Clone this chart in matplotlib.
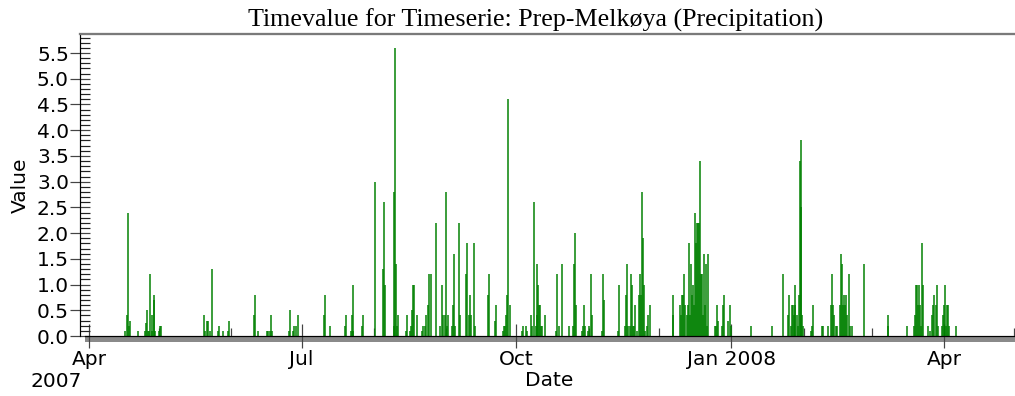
import matplotlib
matplotlib.use("Agg")
import matplotlib.pyplot as plt
import matplotlib.dates as mdates
import matplotlib.ticker as mticker
from matplotlib.patches import Rectangle
import pandas as pd

# ---------------- data ----------------
obs_time = [
    "2007-04-16 10", "2007-04-17 03", "2007-04-17 20", "2007-04-18 06", "2007-04-18 13",
    "2007-04-22 03", "2007-04-24 23", "2007-04-25 10", "2007-04-25 20", "2007-04-26 10",
    "2007-04-26 20", "2007-04-27 06", "2007-04-27 20", "2007-04-28 03", "2007-04-28 16",
    "2007-04-28 23", "2007-04-29 10", "2007-05-01 03", "2007-05-01 13", "2007-05-01 23",
    "2007-05-20 06", "2007-05-20 16", "2007-05-21 09", "2007-05-21 19", "2007-05-22 19",
    "2007-05-23 19", "2007-05-26 09", "2007-05-26 16", "2007-05-28 05", "2007-05-30 16",
    "2007-05-31 02", "2007-06-10 15", "2007-06-11 01", "2007-06-12 12", "2007-06-16 01",
    "2007-06-16 18", "2007-06-17 08", "2007-06-17 18", "2007-06-18 05", "2007-06-25 11",
    "2007-06-26 01", "2007-06-27 05", "2007-06-27 18", "2007-06-28 15", "2007-06-29 08",
    "2007-07-10 14", "2007-07-11 01", "2007-07-13 04", "2007-07-19 14", "2007-07-20 00",
    "2007-07-22 04", "2007-07-22 11", "2007-07-22 21", "2007-07-23 04", "2007-07-27 00",
    "2007-07-27 11", "2007-08-01 10", "2007-08-05 00", "2007-08-05 10", "2007-08-05 20",
    "2007-08-09 10", "2007-08-09 17", "2007-08-10 00", "2007-08-10 10", "2007-08-10 20",
    "2007-08-11 07", "2007-08-14 17", "2007-08-15 03", "2007-08-16 10", "2007-08-16 20",
    "2007-08-17 06", "2007-08-17 17", "2007-08-18 03", "2007-08-19 13", "2007-08-21 13",
    "2007-08-22 00", "2007-08-22 20", "2007-08-23 10", "2007-08-24 06", "2007-08-24 17",
    "2007-08-25 06", "2007-08-27 13", "2007-08-29 06", "2007-08-29 23", "2007-08-30 16",
    "2007-08-31 06", "2007-08-31 16", "2007-09-01 03", "2007-09-01 13", "2007-09-03 13",
    "2007-09-03 23", "2007-09-04 09", "2007-09-04 20", "2007-09-06 13", "2007-09-06 20",
    "2007-09-09 13", "2007-09-09 23", "2007-09-10 13", "2007-09-11 02", "2007-09-11 13",
    "2007-09-12 19", "2007-09-13 06", "2007-09-18 19", "2007-09-19 06", "2007-09-21 23",
    "2007-09-22 09", "2007-09-25 02", "2007-09-25 12", "2007-09-25 23", "2007-09-26 09",
    "2007-09-26 23", "2007-09-27 12", "2007-09-28 09", "2007-10-03 09", "2007-10-03 19",
    "2007-10-05 02", "2007-10-05 12", "2007-10-07 09", "2007-10-07 19", "2007-10-08 15",
    "2007-10-09 05", "2007-10-09 15", "2007-10-09 22", "2007-10-10 08", "2007-10-10 19",
    "2007-10-11 05", "2007-10-11 15", "2007-10-12 01", "2007-10-13 05", "2007-10-17 22",
    "2007-10-18 05", "2007-10-19 05", "2007-10-20 15", "2007-10-23 08", "2007-10-25 01",
    "2007-10-25 15", "2007-10-26 01", "2007-10-26 12", "2007-10-28 22", "2007-10-29 08",
    "2007-10-29 18", "2007-10-30 05", "2007-10-31 11", "2007-11-01 04", "2007-11-01 18",
    "2007-11-02 04", "2007-11-06 11", "2007-11-06 21", "2007-11-07 08", "2007-11-13 07",
    "2007-11-13 18", "2007-11-16 11", "2007-11-16 21", "2007-11-17 07", "2007-11-17 18",
    "2007-11-18 14", "2007-11-19 00", "2007-11-19 11", "2007-11-19 21", "2007-11-20 11",
    "2007-11-20 21", "2007-11-21 11", "2007-11-22 07", "2007-11-22 18", "2007-11-23 04",
    "2007-11-23 14", "2007-11-24 00", "2007-11-24 11", "2007-11-25 04", "2007-11-25 21",
    "2007-11-26 07", "2007-11-27 04", "2007-12-06 21", "2007-12-07 03", "2007-12-10 00",
    "2007-12-10 14", "2007-12-11 00", "2007-12-11 10", "2007-12-11 20", "2007-12-12 07",
    "2007-12-12 20", "2007-12-13 07", "2007-12-13 17", "2007-12-14 03", "2007-12-14 13",
    "2007-12-14 23", "2007-12-15 10", "2007-12-15 20", "2007-12-16 06", "2007-12-16 17",
    "2007-12-17 03", "2007-12-17 13", "2007-12-17 23", "2007-12-18 13", "2007-12-18 23",
    "2007-12-19 10", "2007-12-19 20", "2007-12-20 06", "2007-12-20 17", "2007-12-21 03",
    "2007-12-21 13", "2007-12-22 03", "2007-12-24 20", "2007-12-25 06", "2007-12-25 17",
    "2007-12-26 03", "2007-12-27 20", "2007-12-28 06", "2007-12-28 17", "2007-12-30 17",
    "2007-12-31 06", "2007-12-31 17", "2008-01-09 06", "2008-01-18 12", "2008-01-23 06",
    "2008-01-25 02", "2008-01-25 16", "2008-01-26 09", "2008-01-26 23", "2008-01-27 09",
    "2008-01-27 16", "2008-01-28 02", "2008-01-28 09", "2008-01-28 23", "2008-01-29 09",
    "2008-01-29 19", "2008-01-30 06", "2008-01-30 16", "2008-01-30 23", "2008-01-31 09",
    "2008-01-31 19", "2008-02-03 22", "2008-02-04 09", "2008-02-04 19", "2008-02-08 15",
    "2008-02-09 09", "2008-02-11 08", "2008-02-12 15", "2008-02-13 02", "2008-02-13 12",
    "2008-02-13 22", "2008-02-14 19", "2008-02-15 08", "2008-02-16 12", "2008-02-16 19",
    "2008-02-17 05", "2008-02-17 15", "2008-02-18 05", "2008-02-18 15", "2008-02-19 01",
    "2008-02-19 15", "2008-02-20 05", "2008-02-20 18", "2008-02-21 18", "2008-02-26 22",
    "2008-03-07 22", "2008-03-08 04", "2008-03-16 01", "2008-03-19 04", "2008-03-19 14",
    "2008-03-20 00", "2008-03-20 11", "2008-03-20 21", "2008-03-21 07", "2008-03-21 18",
    "2008-03-22 04", "2008-03-22 11", "2008-03-22 21", "2008-03-25 07", "2008-03-26 00",
    "2008-03-27 00", "2008-03-27 11", "2008-03-27 21", "2008-03-28 11", "2008-03-28 21",
    "2008-03-29 07", "2008-03-31 00", "2008-03-31 11", "2008-03-31 21", "2008-04-01 07",
    "2008-04-01 17", "2008-04-02 04", "2008-04-02 14", "2008-04-03 00", "2008-04-06 00",
]
precip = [
    0.1, 0.4, 2.4, 0.2, 0.3,
    0.1, 0.1, 0.25, 0.5, 0.1,
    0.1, 1.2, 0.1, 0.4, 0.8,
    0.7, 0.1, 0.1, 0.2, 0.2,
    0.4, 0.1, 0.3, 0.3, 0.1,
    1.3, 0.1, 0.2, 0.1, 0.1,
    0.3, 0.4, 0.8, 0.1, 0.1,
    0.1, 0.1, 0.4, 0.1, 0.1,
    0.5, 0.1, 0.2, 0.2, 0.4,
    0.4, 0.8, 0.2, 0.2, 0.4,
    0.1, 0.4, 1.0, 0.1, 0.2,
    0.4, 3.0, 1.3, 2.6, 1.0,
    2.8, 0.2, 5.6, 1.4, 0.2,
    0.4, 0.1, 0.4, 0.1, 0.2,
    0.5, 1.0, 1.0, 0.4, 0.1,
    0.2, 0.2, 0.4, 0.6, 1.2,
    1.2, 2.2, 0.2, 1.0, 0.4,
    0.4, 2.8, 0.2, 0.4, 0.2,
    0.6, 1.6, 0.2, 2.2, 0.4,
    1.2, 1.8, 0.4, 0.8, 0.4,
    1.8, 0.2, 0.8, 1.2, 0.3,
    0.6, 0.1, 0.2, 0.2, 0.4,
    0.8, 4.6, 0.6, 0.1, 0.2,
    0.2, 0.1, 0.4, 0.2, 2.6,
    0.2, 0.4, 1.4, 1.0, 0.6,
    0.6, 0.2, 0.2, 0.4, 0.1,
    1.2, 0.2, 1.4, 0.2, 0.2,
    1.4, 2.0, 0.6, 0.1, 0.2,
    0.6, 0.2, 0.1, 0.2, 1.2,
    0.4, 0.1, 1.2, 0.7, 0.1,
    1.0, 0.2, 0.8, 1.4, 0.2,
    0.2, 1.2, 1.0, 0.2, 0.2,
    0.6, 0.1, 0.8, 1.2, 0.8,
    2.8, 1.9, 1.0, 0.1, 0.2,
    0.4, 0.6, 0.8, 0.4, 0.6,
    0.4, 0.8, 0.8, 1.2, 0.6,
    0.4, 0.6, 1.8, 0.4, 1.4,
    0.8, 1.0, 0.6, 2.4, 1.8,
    2.2, 2.2, 2.2, 3.4, 1.2,
    1.2, 0.4, 1.6, 0.6, 1.4,
    0.2, 1.6, 0.2, 0.2, 0.6,
    0.3, 0.2, 0.6, 0.8, 0.3,
    0.6, 0.2, 0.2, 0.2, 1.2,
    0.4, 0.8, 0.2, 0.6, 0.6,
    0.4, 0.6, 1.0, 0.4, 0.2,
    0.8, 3.4, 3.8, 2.5, 0.4,
    0.2, 0.1, 0.2, 0.6, 0.2,
    0.2, 0.2, 0.6, 1.2, 0.6,
    0.4, 0.2, 0.2, 0.6, 1.6,
    1.4, 0.6, 0.8, 0.6, 0.8,
    0.4, 1.2, 0.2, 0.2, 1.4,
    0.4, 0.2, 0.2, 0.2, 0.4,
    1.0, 1.0, 0.6, 1.0, 0.6,
    0.2, 1.8, 1.0, 0.2, 0.1,
    0.4, 0.6, 0.8, 0.6, 1.0,
    0.2, 0.2, 0.4, 0.6, 1.0,
    0.2, 0.6, 0.6, 0.2, 0.2,
]
major_tick_dates = ["2007-04-01", "2007-07-01", "2007-10-01", "2008-01-01", "2008-04-01"]
major_tick_labels = ["Apr", "Jul", "Oct", "Jan 2008", "Apr"]
first_year_label = "2007"
title_text = "Timevalue for Timeserie: Prep-Melkøya (Precipitation)"

# ---------------- figure ----------------
W, H, DPI = 1015, 396, 100
fig = plt.figure(figsize=(W / DPI, H / DPI), dpi=DPI)
px = lambda v: v * 72.0 / DPI  # pixels -> points
FS = 14.5

ax_left, ax_right, ax_top, ax_bot = 80, 1015, 34, 336
ax_h = ax_bot - ax_top
ax_w = ax_right - ax_left
ax = fig.add_axes([ax_left / W, 1 - ax_bot / H, ax_w / W, ax_h / H])

times = pd.to_datetime(obs_time, format="%Y-%m-%d %H")
ax.vlines(times, 0, precip, colors="#008000", linewidth=px(1.5),
          antialiased=True, zorder=3)

start = pd.Timestamp("2007-04-01")
ax.set_xlim(start - pd.Timedelta(days=3.85), start + pd.Timedelta(days=396.4))
ax.set_ylim(0, 5.87)

# spines
for s in ("right", "bottom"):
    ax.spines[s].set_visible(False)
ax.spines["left"].set_color("black")
ax.spines["left"].set_linewidth(px(1.2))
ax.spines["top"].set_color("#7a7a7a")
ax.spines["top"].set_linewidth(px(2.3))

# grey band and zero line below the plot
band_x0 = (85 - ax_left) / ax_w
band = Rectangle((band_x0, -6 / ax_h), 1 - band_x0, 6 / ax_h,
                 transform=ax.transAxes, facecolor="#8a8a8a", edgecolor="none",
                 clip_on=False, zorder=1.5)
ax.add_patch(band)
ax.plot([band_x0, 1], [0, 0], transform=ax.transAxes, color="black",
        lw=px(1.2), clip_on=False, zorder=4)

# y ticks
ax.yaxis.set_major_locator(mticker.MultipleLocator(0.5))
ax.yaxis.set_minor_locator(mticker.MultipleLocator(0.1))
ax.yaxis.set_major_formatter(mticker.FormatStrFormatter("%.1f"))
ax.tick_params(axis="y", which="major", direction="inout", length=px(20), width=px(1.2),
               color="#444444", pad=px(1), labelsize=FS)
ax.tick_params(axis="y", which="minor", direction="in", length=px(10), width=px(1.2),
               color="#222222")

# x ticks
ax.set_xticks(pd.to_datetime(major_tick_dates))
ax.set_xticklabels(major_tick_labels)
ax.xaxis.set_minor_locator(mdates.MonthLocator())
ax.tick_params(axis="x", which="major", direction="inout", length=px(24), width=px(1.2),
               color="#444444", pad=px(2), labelsize=FS)
ax.tick_params(axis="x", which="minor", direction="in", length=px(8), width=px(1.2),
               color="#444444")

ax.annotate(first_year_label, xy=(pd.Timestamp(major_tick_dates[0]), 0),
            xycoords=("data", "axes fraction"), xytext=(-px(7), -px(36)),
            textcoords="offset points", ha="right", va="top", fontsize=FS,
            annotation_clip=False)

ax.set_xlabel("Date", fontsize=FS)
ax.xaxis.set_label_coords((549 - ax_left) / ax_w, -(371 - ax_bot) / ax_h)
ax.set_ylabel("Value", fontsize=FS)
ax.yaxis.set_label_coords(-(ax_left - 30) / ax_w, 0.5)

title = ax.set_title(title_text, fontfamily="Liberation Serif", fontsize=17, pad=0,
                     x=(535.5 - ax_left) / ax_w, y=1 + 7 / ax_h, va="baseline")
fig.canvas.draw()
w = title.get_window_extent().width
title.set_fontsize(17 * 575.0 / w)

fig.savefig("out.png", dpi=DPI)
